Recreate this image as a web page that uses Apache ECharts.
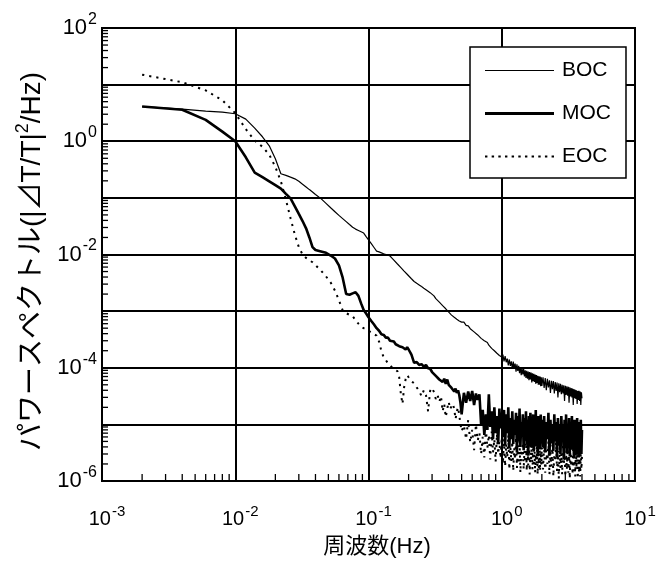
<!DOCTYPE html>
<html><head><meta charset="utf-8">
<script src="https://cdn.jsdelivr.net/npm/echarts@6/dist/echarts.min.js"></script>
<style>html,body{margin:0;padding:0;background:#fff}#c{width:661px;height:563px}</style>
</head><body><div id="c"></div>
<script>
// Frequency grid (Hz)
const freq = [
  0.002,0.004,0.006,0.008,0.010,0.012,0.014,0.016,0.018,0.020,
  0.022,0.024,0.026,0.028,0.030,0.032,0.034,0.036,0.038,0.040,
  0.044,0.048,0.052,0.056,0.060,0.064,0.068,0.072,0.076,0.080,
  0.084,0.088,0.092,0.096,0.100,
  0.105,0.11,0.115,0.12,0.125,0.13,0.135,0.14,0.145,0.15,0.155,0.16,0.165,0.17,0.175,0.18,0.185,0.19,0.195,0.2,
  0.21,0.22,0.23,0.24,0.25,0.26,0.27,0.28,0.29,0.30,0.31,0.32,0.33,0.34,0.35,0.36,0.37,0.38,0.39,0.40,0.41,0.42,0.43,0.44,0.45,0.46,0.47,0.48,0.49,0.50,
  0.52,0.54,0.56,0.58,0.60,0.62,0.64,0.66,0.68,0.70,0.72,0.74,0.76,0.78,0.80,0.82,0.84,0.86,0.88,0.90,0.92,0.94,0.96,0.98,1.00,
  1.02,1.04,1.06,1.08,1.10,1.12,1.14,1.16,1.18,1.20,1.22,1.24,1.26,1.28,1.30,1.32,1.34,1.36,1.38,1.40,1.42,1.44,1.46,1.48,1.50,
  1.52,1.54,1.56,1.58,1.60,1.62,1.64,1.66,1.68,1.70,1.72,1.74,1.76,1.78,1.80,1.82,1.84,1.86,1.88,1.90,1.92,1.94,1.96,1.98,2.00,
  2.04,2.08,2.12,2.16,2.20,2.24,2.28,2.32,2.36,2.40,2.44,2.48,2.52,2.56,2.60,2.64,2.68,2.72,2.76,2.80,2.84,2.88,2.92,2.96,3.00,
  3.04,3.08,3.12,3.16,3.20,3.24,3.28,3.32,3.36,3.40,3.44,3.48,3.52,3.56,3.60,3.64,3.68,3.72,3.76,3.80,3.84,3.88,3.92,3.96,4.00
];

const boc = [
  4.1,3.7,3.4,3.26,3.06,2.46,1.71,1.2,0.83,0.49,
  0.267,0.25,0.232,0.217,0.196,0.174,0.156,0.14,0.127,0.115,
  0.097,0.08,0.067,0.057,0.049,0.043,0.038,0.0338,0.0303,0.0281,
  0.0266,0.0252,0.0239,0.0207,0.0181,
  0.0155,0.0133,0.0115,0.0111,0.0107,0.0103,0.0100,0.0097,0.0094,0.00865,0.00797,0.00735,0.0068,0.00632,0.00587,0.00548,0.0051,0.00478,0.00448,0.00422,
  0.00373,0.00334,0.0031,0.0029,0.00271,0.00254,0.00239,0.00225,0.00212,0.00197,
  0.00186,0.00166,0.0016,0.00144,0.00139,0.00125,0.00122,0.0011,0.00108,0.00096,
  0.00094,0.00085,0.00087,0.00078,0.0008,0.00072,0.00075,0.00067,0.00069,0.00064,
  6.4e-4,5.6e-4,5.5e-4,4.9e-4,4.9e-4,4.3e-4,4.4e-4,3.8e-4,3.8e-4,3.3e-4,3.4e-4,3.0e-4,2.9e-4,2.8e-4,2.5e-4,2.6e-4,2.2e-4,2.3e-4,2.0e-4,2.1e-4,1.8e-4,1.9e-4,1.65e-4,1.72e-4,1.55e-4,
  1.70e-4,1.30e-4,1.60e-4,1.25e-4,1.45e-4,1.10e-4,1.40e-4,1.08e-4,1.30e-4,0.95e-4,1.28e-4,0.98e-4,1.18e-4,0.85e-4,1.15e-4,0.88e-4,1.08e-4,0.80e-4,1.02e-4,0.74e-4,0.98e-4,0.76e-4,0.95e-4,0.70e-4,0.90e-4,
  0.66e-4,0.88e-4,0.64e-4,0.86e-4,0.60e-4,0.84e-4,0.62e-4,0.82e-4,0.55e-4,0.80e-4,0.58e-4,0.78e-4,0.56e-4,0.76e-4,0.52e-4,0.74e-4,0.54e-4,0.72e-4,0.50e-4,0.71e-4,0.50e-4,0.70e-4,0.47e-4,0.68e-4,0.48e-4,
  6.8e-5,4.4e-5,6.6e-5,4.0e-5,6.4e-5,4.5e-5,6.0e-5,3.6e-5,5.9e-5,4.2e-5,5.8e-5,3.5e-5,5.6e-5,3.9e-5,5.5e-5,3.0e-5,5.3e-5,3.7e-5,5.2e-5,3.4e-5,5.0e-5,3.5e-5,4.9e-5,2.6e-5,4.8e-5,
  3.3e-5,4.7e-5,3.2e-5,4.6e-5,2.4e-5,4.5e-5,3.1e-5,4.4e-5,3.0e-5,4.3e-5,2.2e-5,4.2e-5,2.9e-5,4.1e-5,2.8e-5,4.0e-5,2.3e-5,3.9e-5,2.7e-5,3.9e-5,2.6e-5,3.8e-5,2.2e-5,3.7e-5,2.9e-5
];

const moc = [
  4.1,3.6,2.39,1.48,1.0,0.52,0.28,0.232,0.196,0.168,
  0.146,0.118,0.098,0.071,0.052,0.039,0.029,0.020,0.0135,0.012,
  0.0113,0.0107,0.0096,0.0085,0.0064,0.0039,0.0020,0.00195,0.00206,0.00216,
  0.00186,0.00137,0.00105,0.00091,0.00078,
  0.00067,0.00058,0.0005,0.00045,0.00039,0.00038,0.00034,0.00034,0.0003,0.00029,0.00029,0.00026,0.00027,0.00024,0.00026,0.00023,0.00024,0.00021,0.00023,0.00021,
  1.7e-4,1.22e-4,1.26e-4,1.12e-4,1.16e-4,1.05e-4,1.12e-4,0.98e-4,0.96e-4,0.84e-4,
  0.86e-4,0.72e-4,0.74e-4,0.62e-4,0.66e-4,0.56e-4,0.64e-4,0.52e-4,0.62e-4,0.50e-4,
  0.53e-4,0.44e-4,0.47e-4,0.38e-4,0.43e-4,0.36e-4,0.40e-4,0.33e-4,0.24e-4,0.15e-4,
  3.6e-5,2.4e-5,3.8e-5,2.6e-5,3.9e-5,2.2e-5,3.5e-5,2.7e-5,3.4e-5,1.0e-5,1.8e-5,6.5e-6,1.5e-5,8.0e-6,3.4e-5,9.0e-6,1.7e-5,5.5e-6,2.0e-5,7.0e-6,1.4e-5,4.5e-6,1.9e-5,8.5e-6,1.6e-5,
  6.0e-6,1.8e-5,4.2e-6,1.5e-5,7.0e-6,2.0e-5,3.8e-6,1.3e-5,5.5e-6,1.7e-5,4.5e-6,1.2e-5,6.5e-6,1.6e-5,3.2e-6,1.4e-5,5.0e-6,1.9e-5,4.0e-6,1.1e-5,6.0e-6,1.5e-5,3.5e-6,1.3e-5,5.2e-6,
  1.7e-5,4.4e-6,1.2e-5,2.8e-6,1.4e-5,5.8e-6,1.6e-5,3.9e-6,1.1e-5,4.8e-6,1.5e-5,3.3e-6,1.3e-5,6.2e-6,1.8e-5,4.1e-6,1.2e-5,3.0e-6,1.4e-5,5.4e-6,1.1e-5,3.6e-6,1.5e-5,4.6e-6,1.2e-5,
  4.0e-6,1.4e-5,3.2e-6,1.1e-5,5.5e-6,1.6e-5,2.8e-6,1.2e-5,4.6e-6,1.0e-5,3.4e-6,1.5e-5,5.0e-6,1.1e-5,2.6e-6,1.3e-5,4.2e-6,9.5e-6,3.0e-6,1.4e-5,5.3e-6,1.0e-5,2.4e-6,1.2e-5,3.8e-6,
  1.5e-5,3.1e-6,9.0e-6,4.8e-6,1.3e-5,2.7e-6,1.1e-5,3.6e-6,1.4e-5,4.4e-6,9.5e-6,2.5e-6,1.2e-5,3.9e-6,1.0e-5,2.9e-6,1.3e-5,4.5e-6,9.0e-6,2.6e-6,1.1e-5,3.4e-6,1.2e-5,3.0e-6,8.0e-6
];

const eoc = [
  15,11,7.9,5.3,3.14,1.64,1.03,0.8,0.58,0.35,
  0.196,0.093,0.0435,0.0225,0.0135,0.01,0.0087,0.0079,0.0073,0.0065,
  0.0052,0.0041,0.0032,0.0023,0.00156,0.00103,0.00092,0.00086,0.00082,0.00069,
  0.0006,0.00053,0.0005,0.00048,0.00045,
  0.00042,0.00039,0.00037,0.00029,0.000195,0.000153,0.000136,0.00012,0.00011,0.000102,9.4e-5,1.0e-4,8.7e-5,6.8e-5,3.4e-5,2.3e-5,4.5e-5,6.3e-5,7.4e-5,6.8e-5,
  5.8e-5,5.3e-5,4.5e-5,3.9e-5,3.15e-5,4.0e-5,3.3e-5,1.7e-5,3.9e-5,4.4e-5,
  3.7e-5,2.8e-5,3.3e-5,2.5e-5,3.15e-5,1.7e-5,2.3e-5,1.35e-5,1.9e-5,2.5e-5,
  1.86e-5,2.1e-5,2.3e-5,1.86e-5,1.24e-5,1.7e-5,2.0e-5,1.45e-5,1.0e-5,7.6e-6,
  9.6e-6,5.5e-6,1.2e-5,4.8e-6,8.0e-6,3.5e-6,1.0e-5,5.2e-6,7.0e-6,3.0e-6,6.0e-6,2.6e-6,8.5e-6,3.8e-6,6.5e-6,2.4e-6,7.5e-6,3.2e-6,5.5e-6,2.2e-6,6.8e-6,3.0e-6,5.0e-6,2.5e-6,6.0e-6,
  2.0e-6,5.5e-6,1.8e-6,4.5e-6,2.6e-6,6.5e-6,1.6e-6,4.0e-6,2.2e-6,5.0e-6,1.5e-6,3.8e-6,2.4e-6,6.0e-6,1.7e-6,4.2e-6,2.0e-6,5.2e-6,1.4e-6,3.6e-6,2.3e-6,4.8e-6,1.6e-6,3.4e-6,2.1e-6,
  5.6e-6,1.5e-6,3.9e-6,1.9e-6,4.4e-6,1.3e-6,3.2e-6,2.2e-6,5.0e-6,1.6e-6,3.7e-6,1.8e-6,4.6e-6,1.4e-6,3.0e-6,2.0e-6,4.2e-6,1.3e-6,3.5e-6,1.7e-6,4.8e-6,1.5e-6,3.3e-6,1.9e-6,4.0e-6,
  1.6e-6,4.2e-6,1.4e-6,3.5e-6,2.0e-6,5.0e-6,1.3e-6,3.2e-6,1.8e-6,4.4e-6,1.2e-6,3.0e-6,2.2e-6,4.8e-6,1.5e-6,3.4e-6,1.1e-6,4.0e-6,1.7e-6,3.1e-6,1.3e-6,4.6e-6,1.9e-6,3.6e-6,1.2e-6,
  3.0e-6,1.6e-6,4.3e-6,1.4e-6,3.3e-6,1.1e-6,3.8e-6,1.8e-6,2.8e-6,1.3e-6,4.1e-6,1.5e-6,3.2e-6,1.2e-6,3.7e-6,1.7e-6,2.9e-6,1.1e-6,3.9e-6,1.4e-6,3.0e-6,1.2e-6,3.5e-6,1.6e-6,2.7e-6
];

const seriesNames = ['BOC', 'MOC', 'EOC'];
const xLabelExps = [-3, -2, -1, 0, 1];
const yLabelExps = [-6, -4, -2, 0, 2];
const xTitle = '周波数(Hz)';
const yTitle = '{t|パワースペクトル(|⊿T/T|}{s|2}{t|/Hz)}';

const X_MIN = 0.001, X_MAX = 10, Y_MIN = 1e-6, Y_MAX = 100;
const LAT = "'Liberation Sans', 'Noto Sans CJK JP', sans-serif";
// minor (2..9 x 10^n) tick positions
const minorVals = (n0, n1) => { const a = []; for (let n = n0; n <= n1; n++) for (let k = 2; k <= 9; k++) a.push(+(k * Math.pow(10, n)).toPrecision(3)); return a; };
const xMinor = minorVals(-3, 0);
const yMinor = minorVals(-6, 1);

// legend icons (line samples)
const iconThin = 'path://M0,0H69V1.2H0Z';
const iconThick = 'path://M0,0H69V3H0Z';
const iconDots = 'path://M0,0h2.4v2h-2.4z M6.6,0h2.4v2h-2.4z M13.2,0h2.4v2h-2.4z M19.8,0h2.4v2h-2.4z M26.4,0h2.4v2h-2.4z M33,0h2.4v2h-2.4z M39.6,0h2.4v2h-2.4z M46.2,0h2.4v2h-2.4z M52.8,0h2.4v2h-2.4z M59.4,0h2.4v2h-2.4z M66,0h2.4v2h-2.4z';

function labelFmt(shown) {
  return function (v) {
    const e = Math.round(Math.log10(v));
    return shown.indexOf(e) >= 0 ? '{b|10}{s|' + e + '}' : '';
  };
}

const chart = echarts.init(document.getElementById('c'), null, { renderer: 'canvas' });
const black = '#000';

// minor ticks drawn as marks placed through the axes' own scales
const minorTickMarks = {
  silent: true, animation: false,
  symbol: 'rect', symbolSize: [1.3, 7], symbolOffset: [0, -3.5],
  itemStyle: { color: black, borderWidth: 0, opacity: 1 },
  label: { show: false },
  data: xMinor.map(v => ({ coord: [v, Y_MIN] }))
    .concat(yMinor.map(v => ({ coord: [X_MIN, v], symbolSize: [6, 1.3], symbolOffset: [3, 0] })))
};

const option = {
  animation: false,
  backgroundColor: '#fff',
  grid: { left: 102, top: 28, right: 26, bottom: 81, show: true, borderColor: black, borderWidth: 2 },
  legend: {
    data: [
      { name: 'BOC', icon: iconThin },
      { name: 'MOC', icon: iconThick },
      { name: 'EOC', icon: iconDots }
    ],
    orient: 'vertical',
    left: 470, top: 47,
    padding: [13, 15, 11, 15],
    itemWidth: 69, itemHeight: 14, itemGap: 22,
    symbolKeepAspect: true,
    backgroundColor: '#fff', borderColor: black, borderWidth: 1.5, borderRadius: 0,
    textStyle: { fontFamily: LAT, fontSize: 21, color: black, padding: [0, 0, 0, 3] }
  },
  xAxis: {
    type: 'log', logBase: 10, min: X_MIN, max: X_MAX,
    name: xTitle, nameLocation: 'middle', nameGap: 55,
    nameTextStyle: { fontFamily: LAT, fontSize: 22, color: black, padding: [0, 0, 0, 17] },
    axisLine: { show: true, lineStyle: { color: black, width: 2 } },
    axisTick: { show: false },
    splitLine: { show: true, lineStyle: { color: black, width: 2 } },
    axisLabel: {
      formatter: labelFmt(xLabelExps), margin: 23, padding: [0, 0, 0, 10],
      rich: {
        b: { fontFamily: LAT, fontSize: 20, lineHeight: 30, color: black },
        s: { fontFamily: LAT, fontSize: 15, padding: [0, 0, 16, 1], color: black }
      }
    }
  },
  yAxis: {
    type: 'log', logBase: 10, min: Y_MIN, max: Y_MAX,
    name: yTitle, nameLocation: 'middle', nameGap: 50, nameRotate: 90,
    nameTextStyle: {
      padding: [0, 14, 0, 0],
      rich: {
        t: { fontFamily: LAT, fontSize: 28, lineHeight: 36, color: black },
        s: { fontFamily: LAT, fontSize: 18, padding: [0, 0, 18, 0], color: black }
      }
    },
    axisLine: { show: true, lineStyle: { color: black, width: 2 } },
    axisTick: { show: false },
    splitLine: { show: true, lineStyle: { color: black, width: 2 } },
    axisLabel: {
      formatter: labelFmt(yLabelExps), margin: 5,
      rich: {
        b: { fontFamily: LAT, fontSize: 22, lineHeight: 30, color: black },
        s: { fontFamily: LAT, fontSize: 16, padding: [0, 0, 17, 1], color: black }
      }
    }
  },
  series: [
    { name: 'BOC', type: 'line', symbol: 'none', showSymbol: false, z: 3,
      data: freq.map((f, i) => [f, boc[i]]), lineStyle: { color: black, width: 1.2 }, itemStyle: { color: black },
      markPoint: minorTickMarks },
    { name: 'MOC', type: 'line', symbol: 'none', showSymbol: false, z: 4,
      data: freq.map((f, i) => [f, moc[i]]), lineStyle: { color: black, width: 2.6 }, itemStyle: { color: black } },
    { name: 'EOC', type: 'line', symbol: 'none', showSymbol: false, z: 2,
      data: freq.map((f, i) => [f, eoc[i]]), lineStyle: { color: black, width: 2, type: [2.2, 5] }, itemStyle: { color: black } }
  ]
};
chart.setOption(option);
</script>
</body></html>
